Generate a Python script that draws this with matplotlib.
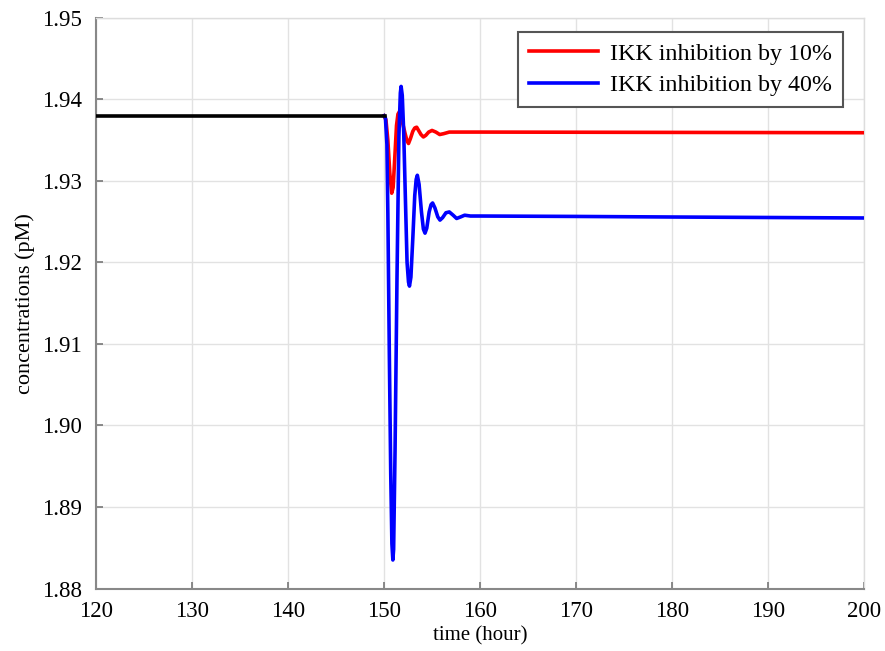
import matplotlib
matplotlib.use('Agg')
import matplotlib.pyplot as plt

plt.rcParams['font.family'] = ['Liberation Serif', 'DejaVu Serif']

# baseline before the inhibition starts
t_base = [120.0, 150.05]
y_base = [1.9380, 1.9380]

# IKK inhibition by 10%
t_red = [150.0, 150.2, 150.4, 150.6, 150.8, 150.95, 151.15, 151.3, 151.45, 151.6,
         151.8, 152.0, 152.2, 152.4, 152.55, 152.75, 153.0, 153.2, 153.4, 153.6,
         153.85, 154.1, 154.35, 154.65, 155.0, 155.4, 155.8, 156.2, 156.8, 157.5,
         160.0, 170.0, 180.0, 190.0, 200.0]
y_red = [1.9380, 1.9375, 1.9350, 1.9310, 1.9285, 1.9292, 1.9335, 1.9368, 1.9382, 1.9385,
         1.9378, 1.9368, 1.9358, 1.9349, 1.9346, 1.9352, 1.9361, 1.9365, 1.9366, 1.9362,
         1.9357, 1.9354, 1.9356, 1.9360, 1.9362, 1.9360, 1.9357, 1.9358, 1.9360, 1.9360,
         1.9360, 1.93598, 1.93596, 1.93594, 1.93592]

# IKK inhibition by 40%
t_blue = [150.0, 150.15, 150.3, 150.4, 150.55, 150.7, 150.82, 150.92, 151.0, 151.15,
          151.35, 151.55, 151.7, 151.78, 151.9, 152.05, 152.2, 152.4, 152.55, 152.65,
          152.8, 153.0, 153.2, 153.35, 153.47, 153.65, 153.9, 154.1, 154.27, 154.45,
          154.7, 154.9, 155.06, 155.3, 155.6, 155.83, 156.1, 156.45, 156.8, 157.2,
          157.56, 158.0, 158.4, 159.0, 160.0, 170.0, 180.0, 190.0, 200.0]
y_blue = [1.9380, 1.9377, 1.9345, 1.9260, 1.9090, 1.8940, 1.8855, 1.8835, 1.8848, 1.8970,
          1.9180, 1.9355, 1.9408, 1.9416, 1.9405, 1.9360, 1.9290, 1.9200, 1.9176, 1.9171,
          1.9182, 1.9230, 1.9282, 1.9302, 1.9307, 1.9296, 1.9262, 1.9241, 1.9236, 1.9242,
          1.9262, 1.9271, 1.9273, 1.9267, 1.9256, 1.9252, 1.9255, 1.9261, 1.9262, 1.9258,
          1.9254, 1.9256, 1.9258, 1.9257, 1.92570, 1.92565, 1.92558, 1.92552, 1.92546]

fig = plt.figure(figsize=(8.85, 6.51), dpi=100)
ax = fig.add_axes([0.1085, 0.0960, 0.8678, 0.8764])

ax.plot(t_red, y_red, color='#ff0000', lw=2.6, label='IKK inhibition by 10%', zorder=3)
ax.plot(t_blue, y_blue, color='#0000ff', lw=2.6, label='IKK inhibition by 40%', zorder=4)
ax.plot(t_base, y_base, color='black', lw=2.6, zorder=5)

ax.set_xlim(120, 200)
ax.set_ylim(1.88, 1.95)
ax.set_xticks(range(120, 201, 10))
ax.set_yticks([1.88, 1.89, 1.90, 1.91, 1.92, 1.93, 1.94, 1.95])
ax.set_yticklabels(['1.88', '1.89', '1.90', '1.91', '1.92', '1.93', '1.94', '1.95'])
ax.grid(True, color='#e2e2e2', lw=1.0)
ax.set_axisbelow(True)
ax.tick_params(direction='in', length=5, width=1.2, colors='#777777',
               labelcolor='black', labelsize=16.5)
ax.tick_params(axis='x', pad=9)
ax.tick_params(axis='y', pad=10)

for side in ['left', 'bottom']:
    ax.spines[side].set_color('#888888')
    ax.spines[side].set_linewidth(1.5)
for side in ['top', 'right']:
    ax.spines[side].set_color('#dddddd')
    ax.spines[side].set_linewidth(1.0)

ax.set_xlabel('time (hour)', fontsize=15, labelpad=3)
ax.set_ylabel('concentrations (pM)', fontsize=16, labelpad=5)

leg = ax.legend(loc='upper right', bbox_to_anchor=(0.9727, 0.9755), borderaxespad=0,
                fontsize=17.3, fancybox=False, framealpha=1, edgecolor='#555555',
                handlelength=2.9, handletextpad=0.5, labelspacing=0.4,
                borderpad=0.45)
leg.get_frame().set_linewidth(1.5)

plt.savefig('out.png', dpi=100)
